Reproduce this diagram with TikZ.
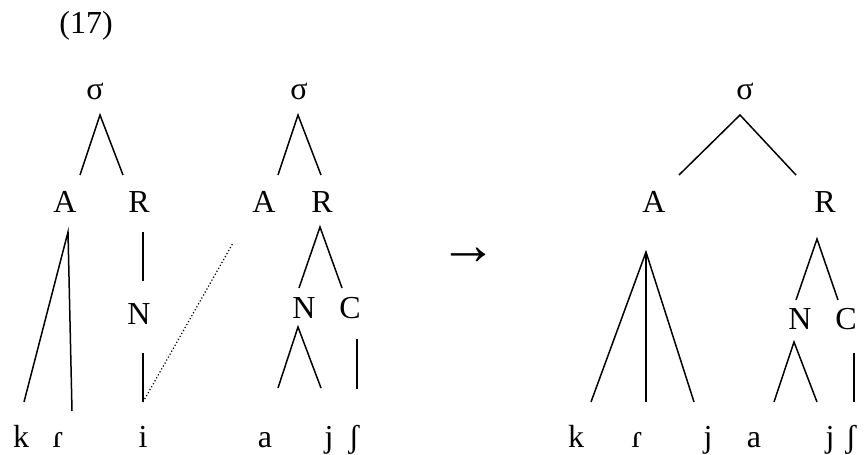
\documentclass[tikz,border=0pt]{standalone}
\usepackage{fontspec}
\setmainfont{Liberation Serif}
\usepackage{tikz}

\begin{document}
\begin{tikzpicture}[
    x=1pt,y=1pt,
    lbl/.style={inner sep=0pt,anchor=base,font=\fontsize{32}{38}\selectfont},
    br/.style={line width=1.5pt},
    assoc/.style={line width=1.2pt,dash pattern=on 1.2pt off 2.2pt}
    ]
    \useasboundingbox (0,0) rectangle (865,455);

    \node[lbl] (ex) at (86,421) {(17)};

    % first input syllable
    \node[lbl] (s1) at (95,355) {σ};
    \node[lbl] (a1) at (65,242) {A};
    \node[lbl] (r1) at (139,242) {R};
    \node[lbl] (n1) at (139,130) {N};
    \node[lbl] (k1) at (21,7) {k};
    \node[lbl] (flap1) at (58,7) {ɾ};
    \node[lbl] (i1) at (143,7) {i};

    % second input syllable
    \node[lbl] (s2) at (299,355) {σ};
    \node[lbl] (a2) at (264,242) {A};
    \node[lbl] (r2) at (322,242) {R};
    \node[lbl] (n2) at (304,136) {N};
    \node[lbl] (c2) at (350,136) {C};
    \node[lbl] (vow1) at (265,7) {a};
    \node[lbl] (j1) at (329,7) {j};
    \node[lbl] (sh1) at (354,7) {ʃ};

    \node[lbl,font=\fontsize{58}{62}\selectfont] (arr) at (468,190) {→};

    % output syllable
    \node[lbl] (s3) at (745,355) {σ};
    \node[lbl] (a3) at (654,242) {A};
    \node[lbl] (r3) at (825,242) {R};
    \node[lbl] (n3) at (800,125) {N};
    \node[lbl] (c3) at (846,125) {C};
    \node[lbl] (k2) at (576,7) {k};
    \node[lbl] (flap2) at (637,7) {ɾ};
    \node[lbl] (j2) at (708,7) {j};
    \node[lbl] (vow2) at (754,7) {a};
    \node[lbl] (j3) at (830,7) {j};
    \node[lbl] (sh2) at (851,7) {ʃ};

    \draw[br] ([shift={(15,38)}]a1.base) -- ([shift={(5,-15)}]s1.base) -- ([shift={(-16,38)}]r1.base);
    \draw[br] ([shift={(3,46)}]k1.base) -- ([shift={(3,-19)}]a1.base) -- ([shift={(14,37)}]flap1.base);
    \draw[br] ([shift={(4,-19)}]r1.base) -- ([shift={(4,44)}]n1.base);
    \draw[br] ([shift={(4,-28)}]n1.base) -- ([shift={(0,46)}]i1.base);
    \draw[assoc] ([shift={(0,46)}]i1.base) -- ([shift={(-31,-30)}]a2.base);

    \draw[br] ([shift={(14,38)}]a2.base) -- ([shift={(-1,-15)}]s2.base) -- ([shift={(-1,38)}]r2.base);
    \draw[br] ([shift={(-5,31)}]n2.base) -- ([shift={(-2,-14)}]r2.base) -- ([shift={(-8,31)}]c2.base);
    \draw[br] ([shift={(13,60)}]vow1.base) -- ([shift={(-6,-8)}]n2.base) -- ([shift={(-8,60)}]j1.base);
    \draw[br] ([shift={(7,-20)}]c2.base) -- ([shift={(3,59)}]sh1.base);

    \draw[br] ([shift={(25,38)}]a3.base) -- ([shift={(-5,-15)}]s3.base) -- ([shift={(-29,38)}]r3.base);
    \draw[br] ([shift={(15,46)}]k2.base) -- ([shift={(-8,-39)}]a3.base) -- ([shift={(-14,46)}]j2.base);
    \draw[br] ([shift={(-8,-39)}]a3.base) -- ([shift={(9,46)}]flap2.base);
    \draw[br] ([shift={(-4,30)}]n3.base) -- ([shift={(-8,-26)}]r3.base) -- ([shift={(-8,30)}]c3.base);
    \draw[br] ([shift={(20,46)}]vow2.base) -- ([shift={(-6,-12)}]n3.base) -- ([shift={(-13,46)}]j3.base);
    \draw[br] ([shift={(8,-23)}]c3.base) -- ([shift={(3,46)}]sh2.base);

\end{tikzpicture}
\end{document}
